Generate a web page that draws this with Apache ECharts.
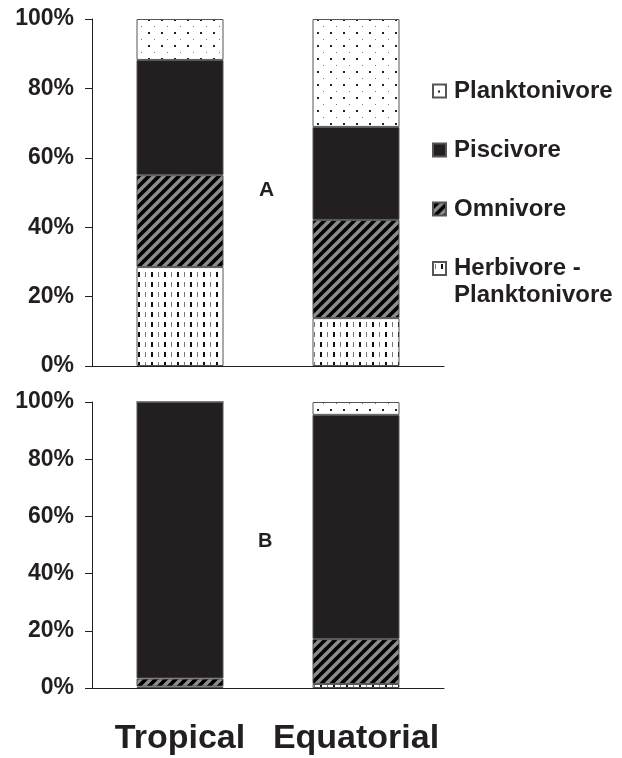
<!DOCTYPE html>
<html>
<head>
<meta charset="utf-8">
<script src="https://cdn.jsdelivr.net/npm/echarts@6/dist/echarts.min.js"></script>
<style>
html,body{margin:0;padding:0;background:#fff;}
#chart{width:622px;height:758px;}
</style>
</head>
<body>
<div id="chart"></div>
<script>
// ---- data ----
const categories = ['Tropical', 'Equatorial'];
const seriesNames = ['Herbivore - Planktonivore', 'Omnivore', 'Piscivore', 'Planktonivore'];
// Panel A (%)
const herbA = [28.5, 13.8];
const omniA = [26.5, 28.3];
const pisciA = [33.2, 26.8];
const planktA = [11.8, 31.1];
// Panel B (%)
const herbB = [0.5, 1.4];
const omniB = [2.8, 15.7];
const pisciB = [96.7, 78.4];
const planktB = [0, 4.5];
const yTicks = [0, 20, 40, 60, 80, 100];
const panelLabels = ['A', 'B'];

// ---- patterns ----
function makeCanvas(w, h, draw) {
  const c = document.createElement('canvas');
  c.width = w; c.height = h;
  draw(c.getContext('2d'), w, h);
  return c;
}
const dotsPattern = makeCanvas(13, 13, (g, w, h) => {
  g.fillStyle = '#fff'; g.fillRect(0, 0, w, h);
  g.fillStyle = '#222'; g.fillRect(5, 6, 2, 2);
  g.fillStyle = '#777'; g.fillRect(11, 0, 1, 1);
});
const stripePattern = makeCanvas(10, 10, (g, w, h) => {
  g.fillStyle = '#000'; g.fillRect(0, 0, w, h);
  g.strokeStyle = '#8c8c8c'; g.lineWidth = 3.4;
  g.beginPath();
  g.moveTo(-3, 13); g.lineTo(13, -3);
  g.moveTo(-8, 8); g.lineTo(8, -8);
  g.moveTo(2, 18); g.lineTo(18, 2);
  g.stroke();
});
const dashPattern = makeCanvas(13, 10, (g, w, h) => {
  g.fillStyle = '#fff'; g.fillRect(0, 0, w, h);
  g.fillStyle = '#777'; g.fillRect(2, 2, 1, 5);
  g.fillStyle = '#111'; g.fillRect(8, 2, 2, 5);
});
const colors = {
  'Herbivore - Planktonivore': { image: dashPattern, repeat: 'repeat' },
  'Omnivore': { image: stripePattern, repeat: 'repeat' },
  'Piscivore': '#231f20',
  'Planktonivore': { image: dotsPattern, repeat: 'repeat' }
};

const font = '"Liberation Sans", Arial, sans-serif';
const ink = '#231f20';

const panelData = [
  [herbA, omniA, pisciA, planktA],
  [herbB, omniB, pisciB, planktB]
];
const series = [];
panelData.forEach((arrs, p) => {
  arrs.forEach((vals, i) => {
    series.push({
      name: seriesNames[i],
      type: 'bar',
      stack: 'p' + p,
      xAxisIndex: p,
      yAxisIndex: p,
      barWidth: 87,
      data: vals,
      itemStyle: { color: colors[seriesNames[i]], borderColor: '#555', borderWidth: 1 },
      emphasis: { disabled: true }
    });
  });
});

const yAxisBase = {
  type: 'value', min: 0, max: 100, interval: 20,
  axisLine: { show: true, lineStyle: { color: ink, width: 1 } },
  axisTick: { show: true, length: 7, lineStyle: { color: ink } },
  splitLine: { show: false },
  axisLabel: { formatter: v => yTicks.includes(v) ? v + '%' : '', margin: 18, fontSize: 23, fontWeight: 'bold', fontFamily: font, color: ink }
};

const option = {
  animation: false,
  backgroundColor: '#fff',
  grid: [
    { left: 92, top: 19, width: 352, height: 347 },
    { left: 92, top: 402, width: 352, height: 286 }
  ],
  xAxis: [
    { type: 'category', gridIndex: 0, data: categories,
      axisLine: { lineStyle: { color: ink } },
      axisTick: { length: 4, lineStyle: { color: ink } },
      axisLabel: { show: false } },
    { type: 'category', gridIndex: 1, data: categories,
      axisLine: { lineStyle: { color: ink } },
      axisTick: { length: 10, lineStyle: { color: ink } },
      axisLabel: { interval: 0, hideOverlap: false, margin: 34, fontSize: 34, fontWeight: 'bold', fontFamily: font, color: ink } }
  ],
  yAxis: [
    Object.assign({ gridIndex: 0 }, yAxisBase),
    Object.assign({ gridIndex: 1 }, yAxisBase)
  ],
  legend: [
    { orient: 'vertical', left: 432, top: 79, padding: 0, itemGap: 35, itemWidth: 13, itemHeight: 13,
      icon: 'rect', selectedMode: false,
      data: ['Planktonivore', 'Piscivore', 'Omnivore'],
      textStyle: { fontSize: 24, fontWeight: 'bold', fontFamily: font, color: ink, padding: [0, 0, 0, 3] } },
    { orient: 'vertical', left: 432, top: 228, padding: 0, itemWidth: 13, itemHeight: 13,
      icon: 'rect', selectedMode: false,
      data: ['Herbivore - Planktonivore'],
      formatter: n => '\n' + n.replace(' - ', ' -\n'),
      textStyle: { fontSize: 24, lineHeight: 27, fontWeight: 'bold', fontFamily: font, color: ink, padding: [0, 0, 0, 3] } }
  ],
  graphic: [
    { type: 'text', left: 259, top: 180, style: { text: panelLabels[0], font: 'bold 21px ' + font, fill: ink } },
    { type: 'text', left: 258, top: 531, style: { text: panelLabels[1], font: 'bold 20px ' + font, fill: ink } }
  ],
  series: series
};

const chart = echarts.init(document.getElementById('chart'), null, { renderer: 'canvas' });
chart.setOption(option);
</script>
</body>
</html>
